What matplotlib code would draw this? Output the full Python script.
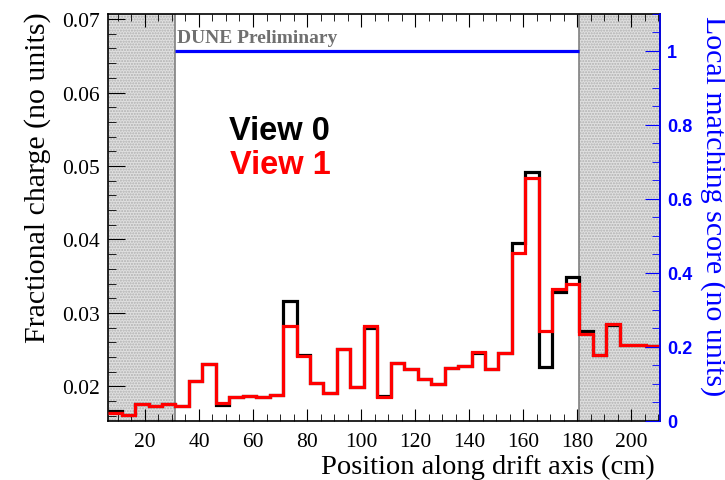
import matplotlib.pyplot as plt
import numpy as np
from matplotlib.ticker import MultipleLocator

# drift-axis binning (cm)
x_lo = 6.4
bin_width = 4.98
n_bins = 41

# fractional charge per bin, view 0 and view 1
view0 = [0.0166, 0.0161, 0.0176, 0.01735, 0.0176, 0.01735, 0.0207, 0.0231, 0.0175, 0.0186,
         0.0187, 0.0186, 0.0188, 0.0316, 0.0243, 0.0205, 0.0191, 0.0251, 0.0199, 0.0280,
         0.0187, 0.0232, 0.0224, 0.0210, 0.0204, 0.0225, 0.0228, 0.0245, 0.0224, 0.0245,
         0.0395, 0.0492, 0.0226, 0.0329, 0.0349, 0.0275, 0.0243, 0.0283, 0.0256, 0.0257,
         0.0255]
view1 = [0.0164, 0.0161, 0.0176, 0.01735, 0.0176, 0.01735, 0.0207, 0.0231, 0.0177, 0.0186,
         0.0187, 0.0186, 0.0189, 0.0282, 0.0242, 0.0205, 0.0191, 0.0251, 0.0199, 0.0282,
         0.0185, 0.0232, 0.0224, 0.0210, 0.0204, 0.0225, 0.0228, 0.0247, 0.0224, 0.0245,
         0.0381, 0.0484, 0.0275, 0.0332, 0.0340, 0.0271, 0.0243, 0.0285, 0.0256, 0.0257,
         0.0255]

# local matching score, only defined inside the fiducial bins
first_active, last_active = 5, 35
score = [1.0] * (last_active - first_active)

edges = x_lo + bin_width * np.arange(n_bins + 1)

plt.rcParams['font.family'] = ['Liberation Serif', 'DejaVu Serif']

fig = plt.figure(figsize=(7.25, 4.81), dpi=100)
ax = fig.add_axes([108 / 725, 1 - 422 / 481, 552 / 725, 407.5 / 481])

x_min, x_max = 6.35, 210.6
ax.set_xlim(x_min, x_max)
ax.set_ylim(0.0153, 0.07075)

# shaded regions outside the fiducial volume
for a, b in [(x_min, edges[first_active]), (edges[last_active], x_max)]:
    ax.axvspan(a, b, facecolor='#e0e0e0', edgecolor='#b0b0b0', hatch='......', lw=0, zorder=0)
    for xe in (a, b):
        if x_min < xe < x_max:
            ax.axvline(xe, color='#808080', lw=1.2, zorder=1)

ax.stairs(view0, edges, color='black', lw=2.3, baseline=None, zorder=3)
ax.stairs(view1, edges, color='#ff0000', lw=2.3, baseline=None, zorder=4)

ax.xaxis.set_major_locator(MultipleLocator(20))
ax.xaxis.set_minor_locator(MultipleLocator(5))
ax.yaxis.set_major_locator(MultipleLocator(0.01))
ax.yaxis.set_minor_locator(MultipleLocator(0.002))
ax.set_yticks([0.02, 0.03, 0.04, 0.05, 0.06, 0.07])
ax.set_yticklabels(['0.02', '0.03', '0.04', '0.05', '0.06', '0.07'])
ax.tick_params(axis='x', which='both', direction='in', top=True, bottom=True, labelsize=15.5, pad=8)
ax.tick_params(axis='x', which='major', length=9)
ax.tick_params(axis='x', which='minor', length=5)
ax.tick_params(axis='y', which='both', direction='in', left=True, right=False, labelsize=15.5, pad=6)
ax.tick_params(axis='y', which='major', length=12)
ax.tick_params(axis='y', which='minor', length=6)
for sp in ax.spines.values():
    sp.set_linewidth(1.2)

# second axis for the matching score
ax2 = ax.twinx()
ax2.set_ylim(0, 1.1)
ax2.stairs(score, edges[first_active:last_active + 1], color='#0000ff', lw=2.3, baseline=None, zorder=5)
ax2.yaxis.set_major_locator(MultipleLocator(0.2))
ax2.yaxis.set_minor_locator(MultipleLocator(0.05))
ax2.set_yticks([0, 0.2, 0.4, 0.6, 0.8, 1.0])
ax2.set_yticklabels(['0', '0.2', '0.4', '0.6', '0.8', '1'])
ax2.tick_params(axis='y', which='both', direction='in', colors='#0000ff', pad=5)
ax2.tick_params(axis='y', which='major', length=11)
ax2.tick_params(axis='y', which='minor', length=5.5)
for lab in ax2.get_yticklabels():
    lab.set_fontfamily('Liberation Sans')
    lab.set_fontweight('bold')
    lab.set_fontsize(13)
ax2.spines['right'].set_color('#0000ff')
ax2.spines['right'].set_linewidth(1.2)
for side in ('left', 'top', 'bottom'):
    ax2.spines[side].set_visible(False)

ax.text(edges[first_active] + 0.6, 0.0669, 'DUNE Preliminary',
        fontsize=14, fontweight='bold', color='#707070', va='baseline', ha='left', zorder=6)
ax.text(0.219, 0.691, 'View 0', transform=ax.transAxes, fontsize=23.5, fontweight='bold',
        family='Liberation Sans', color='black', va='baseline', ha='left')
ax.text(0.221, 0.6086, 'View 1', transform=ax.transAxes, fontsize=23.5, fontweight='bold',
        family='Liberation Sans', color='#ff0000', va='baseline', ha='left')

# axis titles, ROOT style: aligned to the far end of each axis
fig.text(655 / 725, 1 - 474 / 481, 'Position along drift axis (cm)', fontsize=20.5,
         ha='right', va='baseline')
fig.text(38 / 725, 1 - 12 / 481, 'Fractional charge (no units)', fontsize=21.5,
         rotation=90, ha='center', va='top')
fig.text(713 / 725, 1 - 16 / 481, 'Local matching score (no units)', fontsize=21.5,
         rotation=270, ha='center', va='top', color='#0000ff')

fig.savefig('out.png', dpi=100)
